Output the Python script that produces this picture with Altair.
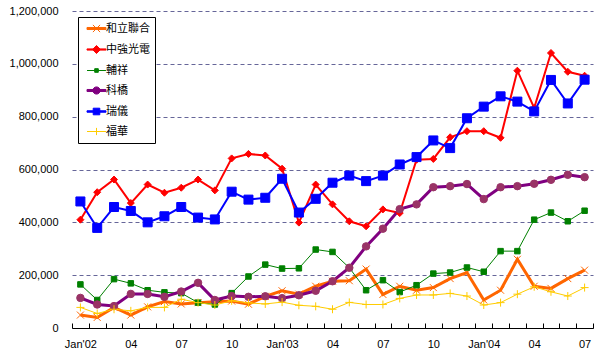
import json
import altair as alt
import pandas as pd

# ---------------- data ----------------
series_names = ["和立聯合", "中強光電", "輔祥", "科橋", "瑞儀", "福華"]

# monthly values, Jan'02 .. Jul'04 (31 months), in thousands
s_heli = [49, 40, 78, 49, 80, 100, 91, 96, 99, 102, 90, 120, 141, 128, 158, 177,
          179, 223, 127, 158, 143, 153, 187, 210, 106, 143, 260, 158, 150, 187, 219]
s_zhongqiang = [410, 514, 562, 473, 543, 512, 531, 562, 521, 642, 659, 653, 603, 399, 543, 468,
                404, 385, 449, 435, 637, 640, 722, 745, 745, 720, 974, 833, 1041, 970, 955]
s_fuxiang = [165, 106, 185, 169, 143, 135, 132, 96, 89, 132, 195, 240, 225, 226, 297, 288,
             228, 143, 181, 136, 162, 206, 210, 229, 213, 291, 291, 410, 437, 404, 444]
s_keqiao = [114, 89, 83, 129, 129, 118, 138, 171, 106, 121, 118, 120, 113, 124, 141, 177,
            228, 309, 376, 450, 468, 533, 537, 545, 488, 533, 537, 546, 561, 580, 571]
s_ruiyi = [479, 379, 458, 443, 400, 423, 458, 418, 411, 516, 486, 493, 565, 437, 489, 550,
           577, 556, 577, 619, 647, 710, 681, 794, 838, 877, 857, 820, 939, 850, 940]
s_fuhua = [78, 55, 71, 65, 78, 78, 109, 96, 87, 103, 95, 91, 98, 86, 82, 71,
           97, 89, 89, 112, 125, 125, 131, 121, 87, 96, 128, 156, 137, 121, 153]

tick_labels = ["Jan'02", "04", "07", "10", "Jan'03", "04", "07", "10", "Jan'04", "04", "07"]
y_ticks = [0, 200000, 400000, 600000, 800000, 1000000, 1200000]

all_series = [s_heli, s_zhongqiang, s_fuxiang, s_keqiao, s_ruiyi, s_fuhua]
rows = []
for name, vals in zip(series_names, all_series):
    for i, v in enumerate(vals):
        rows.append({"series": name, "m": i, "v": v * 1000})
df = pd.DataFrame(rows)

n = len(s_heli)
x_domain = [-0.5, n - 0.5]
boundaries = [k - 0.5 for k in range(n + 1)]
label_pos = list(range(0, n, 3))

# ---------------- styles ----------------
line_colors = ["#FF6600", "#FF0000", "#008000", "#800080", "#0000FF", "#FFCC00"]
line_widths = [3, 2, 1, 3, 2, 1]
marker_shapes = ["M-1,-1L1,1M-1,1L1,-1", "diamond", "square", "circle", "square", "M-1,0H1M0,-1V1"]
marker_sizes = [49, 49, 30, 56, 81, 64]
marker_fill = ["transparent", "#FF0000", "#008000", "#993366", "#0000FF", "transparent"]
marker_stroke = ["#FF6600", "#FF0000", "#008000", "#993366", "#0000FF", "#FFCC00"]

legend_paths = [
    "M-1.58,-0.17H1.58V0.17H-1.58Z M-0.6,-0.6L0.6,0.6M-0.6,0.6L0.6,-0.6",
    "M-1.58,-0.1H1.58V0.1H-1.58Z M0,-0.67L0.67,0L0,0.67L-0.67,0Z",
    "M-1.58,0H1.58 M-0.3,-0.3H0.3V0.3H-0.3Z",
    "M-1.58,-0.17H1.58V0.17H-1.58Z M0.6,0A0.6,0.6,0,1,1,-0.6,0A0.6,0.6,0,1,1,0.6,0Z",
    "M-1.58,-0.12H1.58V0.12H-1.58Z M-0.55,-0.55H0.55V0.55H-0.55Z",
    "M-1.58,0H1.58 M0,-0.6V0.6",
]
legend_fill = ["#FF6600", "#FF0000", "#008000", "#800080", "#0000FF", "#FFCC00"]
legend_stroke = ["#FF6600", "#FF0000", "#008000", "#800080", "#0000FF", "#FFCC00"]

FONT = "Liberation Sans"
CJK = "Noto Sans CJK TC"

y_enc = alt.Y(
    "v:Q",
    scale=alt.Scale(domain=[0, 1200000], nice=False),
    axis=alt.Axis(
        values=y_ticks, format=",d", grid=True, gridDash=[4, 3], gridColor="#666699",
        gridWidth=1, domain=False, ticks=False, labelPadding=14, labelFont=FONT,
        labelFontSize=11, labelColor="black", title=None,
    ),
)
x_scale = alt.Scale(domain=x_domain, nice=False, zero=False)

lines = alt.Chart(df).mark_line(interpolate="linear").encode(
    x=alt.X("m:Q", scale=x_scale,
            axis=alt.Axis(values=boundaries, labels=False, domain=False, grid=False,
                          ticks=True, tickSize=5, tickColor="black", tickWidth=1,
                          offset=-5, title=None, orient="bottom")),
    y=y_enc,
    color=alt.Color("series:N", scale=alt.Scale(domain=series_names, range=line_colors), legend=None),
    strokeWidth=alt.StrokeWidth("series:N",
                                scale=alt.Scale(type="ordinal", domain=series_names, range=line_widths),
                                legend=None),
)

label_expr = json.dumps(tick_labels) + "[round(datum.value/3)]"

points = alt.Chart(df).mark_point(strokeWidth=1, opacity=1).encode(
    x=alt.X("m:Q", scale=x_scale,
            axis=alt.Axis(values=label_pos, labelExpr=label_expr, ticks=False, domain=True,
                          domainColor="black", domainWidth=1, grid=False, labelPadding=10,
                          labelFlush=False, labelOverlap=False, labelFont=FONT,
                          labelFontSize=11, labelColor="black", title=None, orient="bottom")),
    y=y_enc,
    fill=alt.Fill("series:N", scale=alt.Scale(domain=series_names, range=marker_fill), legend=None),
    stroke=alt.Stroke("series:N", scale=alt.Scale(domain=series_names, range=marker_stroke), legend=None),
    shape=alt.Shape("series:N", scale=alt.Scale(domain=series_names, range=marker_shapes), legend=None),
    size=alt.Size("series:N",
                  scale=alt.Scale(type="ordinal", domain=series_names, range=marker_sizes),
                  legend=None),
)

leg = alt.Legend(
    orient="none", legendX=6, legendY=6, title=None, fillColor="white", strokeColor="black",
    padding=5, symbolSize=144, symbolStrokeWidth=1, symbolOffset=7, labelFont=CJK,
    labelFontSize=11, labelColor="black", labelOffset=3, rowPadding=8, symbolOpacity=1,
)
legend_layer = alt.Chart(df).transform_filter("false").mark_point(filled=True, opacity=1).encode(
    fill=alt.Fill("series:N", scale=alt.Scale(domain=series_names, range=legend_fill), legend=leg),
    stroke=alt.Stroke("series:N", scale=alt.Scale(domain=series_names, range=legend_stroke), legend=leg),
    shape=alt.Shape("series:N", scale=alt.Scale(domain=series_names, range=legend_paths), legend=leg),
)

chart = (
    alt.layer(lines, points, legend_layer)
    .resolve_axis(x="independent")
    .resolve_scale(fill="independent", stroke="independent", shape="independent")
    .properties(
        width=521, height=317,
        autosize=alt.AutoSizeParams(type="none"),
        padding={"left": 72, "top": 11, "right": 12, "bottom": 29},
        background="white",
    )
    .configure_view(stroke=None)
)

chart.save("out.html", embed_options={"renderer": "svg", "actions": False})
